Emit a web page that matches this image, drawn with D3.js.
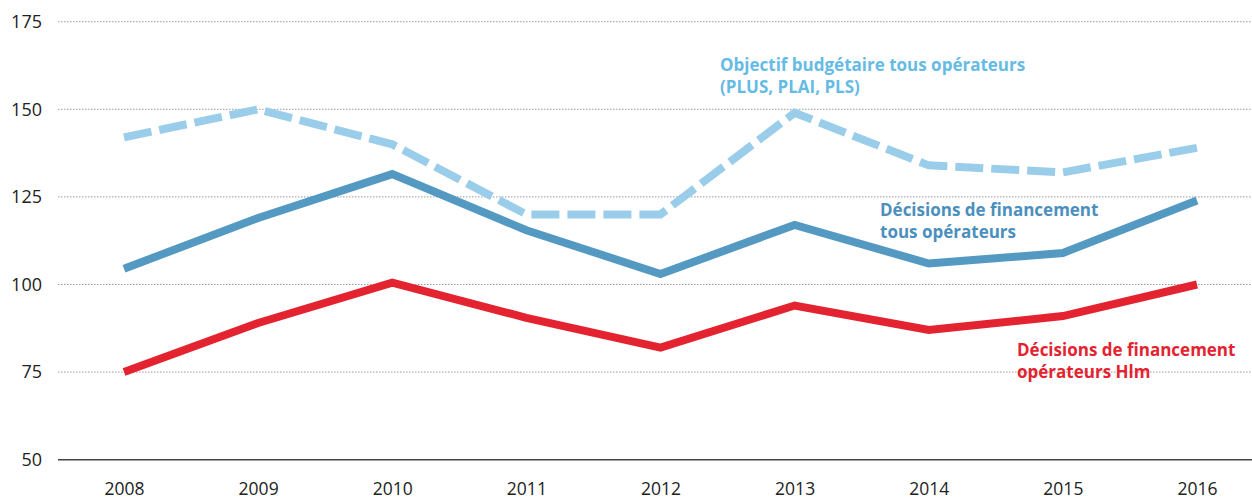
<!DOCTYPE html>
<html>
<head>
<meta charset="utf-8">
<script src="https://cdn.jsdelivr.net/npm/d3@7"></script>
<style>
  html, body { margin: 0; padding: 0; background: #fff; }
  svg { display: block; }
  text { font-family: "Open Sans", "Noto Sans", sans-serif; }
</style>
</head>
<body>
<svg id="chart" width="1252" height="502"></svg>
<script>
// Logements financés (milliers), 2008–2016
const years = [2008, 2009, 2010, 2011, 2012, 2013, 2014, 2015, 2016];
const objectifBudgetaire = [142, 150, 140, 120, 120, 149, 134, 132, 139];
const decisionsTous = [104.5, 119, 131.5, 115.5, 103, 117, 106, 109, 124];
const decisionsHlm = [75, 89, 100.5, 90.5, 82, 94, 87, 91, 100];
const yTicks = [50, 75, 100, 125, 150, 175];

const svg = d3.select("#chart");
const W = 1252;

const x = d3.scalePoint().domain(years).range([124, 1197]);
const y = d3.scaleLinear().domain([50, 175]).range([459.7, 21.7]);

// Horizontal grid (dotted) and the baseline at 50
const grid = svg.append("g");
grid.selectAll("line")
  .data(yTicks.filter(d => d !== 50))
  .join("line")
  .attr("x1", 58).attr("x2", W)
  .attr("y1", d => y(d)).attr("y2", d => y(d))
  .attr("stroke", "#9a9a9a")
  .attr("stroke-width", 1)
  .attr("stroke-dasharray", "1.5,1.5");

grid.append("line")
  .attr("x1", 58).attr("x2", W)
  .attr("y1", y(50)).attr("y2", y(50))
  .attr("stroke", "#444")
  .attr("stroke-width", 1.6);

// Y axis labels
const yAxis = d3.axisLeft(y).tickValues(yTicks).tickSize(0).tickPadding(0);
const gy = svg.append("g").attr("transform", "translate(42,0)").call(yAxis);
gy.select(".domain").remove();
gy.selectAll("text")
  .attr("font-size", 18)
  .attr("fill", "#222")
  .attr("font-family", "\"Open Sans\", sans-serif");

// X axis labels
const xAxis = d3.axisBottom(x).tickSize(0).tickPadding(0);
const gx = svg.append("g").attr("transform", "translate(0,483)").call(xAxis);
gx.select(".domain").remove();
gx.selectAll("text")
  .attr("font-size", 17.5)
  .attr("fill", "#222")
  .attr("font-family", "\"Open Sans\", sans-serif");

// Series lines
const line = d3.line().x((d, i) => x(years[i])).y(d => y(d));

svg.append("path")
  .datum(decisionsHlm)
  .attr("d", line)
  .attr("fill", "none")
  .attr("stroke", "#e42330")
  .attr("stroke-width", 8)
  .attr("stroke-linejoin", "miter");

svg.append("path")
  .datum(decisionsTous)
  .attr("d", line)
  .attr("fill", "none")
  .attr("stroke", "#5499c1")
  .attr("stroke-width", 8)
  .attr("stroke-linejoin", "miter");

svg.append("path")
  .datum(objectifBudgetaire)
  .attr("d", line)
  .attr("fill", "none")
  .attr("stroke", "#9acde9")
  .attr("stroke-width", 8)
  .attr("stroke-dasharray", "28,8")
  .attr("stroke-linejoin", "miter");

// Series labels
function label(lines, xPos, yPos, color) {
  const t = svg.append("text")
    .attr("x", xPos).attr("y", yPos)
    .attr("fill", color)
    .attr("font-size", 17)
    .attr("font-weight", 700);
  lines.forEach((s, i) => {
    t.append("tspan").attr("x", xPos).attr("dy", i === 0 ? 0 : 22).text(s);
  });
}

label(["Objectif budgétaire tous opérateurs", "(PLUS, PLAI, PLS)"], 720, 71, "#66bbe4");
label(["Décisions de financement", "tous opérateurs"], 880, 216, "#4b8fbe");
label(["Décisions de financement", "opérateurs Hlm"], 1017, 356, "#e42330");
</script>
</body>
</html>
